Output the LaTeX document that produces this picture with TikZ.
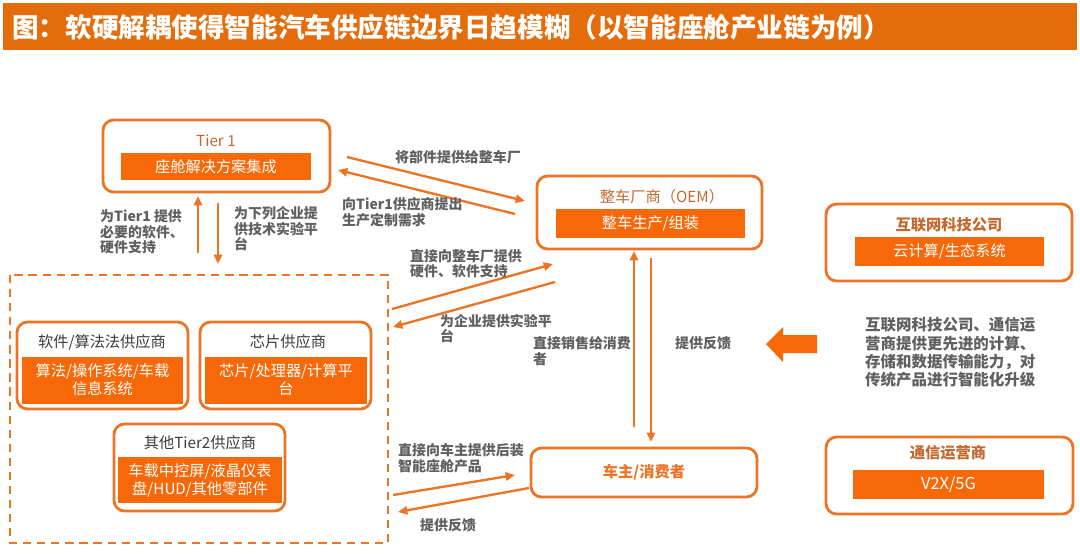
\documentclass[tikz,border=0pt]{standalone}
\usepackage{fontspec}
\setmainfont{Noto Sans CJK SC}
\usetikzlibrary{arrows.meta}
\definecolor{titleor}{RGB}{228,108,10}
\definecolor{boxor}{RGB}{246,104,8}
\definecolor{lineor}{RGB}{236,116,36}
\definecolor{hdrbrown}{RGB}{196,104,48}
\definecolor{hdrdark}{RGB}{60,60,60}
\definecolor{lblgray}{RGB}{96,96,96}
\newlength\pxu
\setlength\pxu{0.03cm}
\tikzset{
  outerbox/.style={draw=lineor, line width=2.4pt, rounded corners=9pt, fill=white, inner sep=0pt},
  innerbox/.style={fill=boxor, text=white, inner sep=0pt, align=center, font=\fontsize{13}{15.4}\selectfont},
  hdr/.style={inner sep=0pt, font=\fontsize{13}{15}\selectfont},
  lbl/.style={text=lblgray, font=\fontsize{11.9}{13.3}\selectfont\bfseries, align=left, anchor=west, inner sep=0pt},
  arr/.style={draw=lineor, line width=2pt, -{Triangle[length=8pt,width=7pt]}},
}
\begin{document}
\begin{tikzpicture}[x=0.03cm, y=-0.03cm]
\useasboundingbox (0,0) rectangle (1080,554);
\fill[white] (0,0) rectangle (1080,554);
% title
\fill[titleor] (3,3) rectangle (1077,50);
\node[anchor=west, text=white, inner sep=0pt, font=\fontsize{22.7}{24}\selectfont\bfseries] (title) at (12,27) {图：软硬解耦使得智能汽车供应链边界日趋模糊（以智能座舱产业链为例）};

% Tier 1
\node[outerbox, minimum width=227\pxu, minimum height=72\pxu] (tier1) at (216.5,156) {};
\node[hdr, text=hdrbrown] (tier1h) at (216,141) {Tier 1};
\node[innerbox, minimum width=190\pxu, minimum height=27\pxu] (tier1i) at (216,166.5) {座舱解决方案集成};

% OEM
\node[outerbox, minimum width=225\pxu, minimum height=73\pxu] (oem) at (649.5,212.5) {};
\node[hdr, text=hdrbrown] (oemh) at (662,197) {整车厂商（OEM）};
\node[innerbox, minimum width=189\pxu, minimum height=29\pxu] (oemi) at (650.5,223.5) {整车生产/组装};

% Internet
\node[outerbox, minimum width=246\pxu, minimum height=77\pxu] (inet) at (949,242.5) {};
\node[hdr, text=hdrbrown, font=\fontsize{13}{15}\selectfont\bfseries] (ineth) at (949,225) {互联网科技公司};
\node[innerbox, minimum width=189\pxu, minimum height=29\pxu] (ineti) at (949.5,251.5) {云计算/生态系统};

% Telecom
\node[outerbox, minimum width=247\pxu, minimum height=77\pxu] (tele) at (949.5,475.5) {};
\node[hdr, text=hdrbrown, font=\fontsize{13}{15}\selectfont\bfseries] (teleh) at (948,453) {通信运营商};
\node[innerbox, minimum width=191\pxu, minimum height=29\pxu, font=\fontsize{14}{16}\selectfont] (telei) at (948.5,484.5) {V2X/5G};

% Consumer
\node[outerbox, minimum width=226\pxu, minimum height=49\pxu, text=lineor, font=\fontsize{13}{15}\selectfont\bfseries] (cons) at (644,472.5) {车主/消费者};

% dashed group
\draw[draw=lineor, line width=2pt, dash pattern=on 7pt off 5pt] (10,275) rectangle (388,543);

% Software
\node[outerbox, minimum width=171\pxu, minimum height=87\pxu] (soft) at (102.5,365.5) {};
\node[hdr, text=hdrdark] (softh) at (102,342) {软件/算法法供应商};
\node[innerbox, minimum width=161\pxu, minimum height=47\pxu] (softi) at (102.5,380) {算法/操作系统/车载\\信息系统};

% Chip
\node[outerbox, minimum width=171\pxu, minimum height=87\pxu] (chip) at (285.5,365.5) {};
\node[hdr, text=hdrdark] (chiph) at (288,342) {芯片供应商};
\node[innerbox, minimum width=162\pxu, minimum height=47\pxu] (chipi) at (286,380) {芯片/处理器/计算平\\台};

% Other Tier2
\node[outerbox, minimum width=171\pxu, minimum height=87\pxu] (other) at (199.5,467.5) {};
\node[hdr, text=hdrdark] (otherh) at (200,443) {其他Tier2供应商};
\node[innerbox, minimum width=164\pxu, minimum height=46\pxu] (otheri) at (200,480) {车载中控屏/液晶仪表\\盘/HUD/其他零部件};

% connector end points
\coordinate (t1up0) at (198,253);  \coordinate (t1up1) at (198,196);
\coordinate (t1dn0) at (218,203);  \coordinate (t1dn1) at (218,264);
\coordinate (a1s) at (347,157);   \coordinate (a1e) at (525,201);
\coordinate (a2s) at (515,214);   \coordinate (a2e) at (338,170);
\coordinate (a3s) at (392,309);   \coordinate (a3e) at (553,264);
\coordinate (a4s) at (555,282);   \coordinate (a4e) at (393,327);
\coordinate (v1s) at (634,427);   \coordinate (v1e) at (634,251);
\coordinate (v2s) at (651,258);   \coordinate (v2e) at (651,442);
\coordinate (a5s) at (393,495);   \coordinate (a5e) at (515,475);
\coordinate (a6s) at (529,488);   \coordinate (a6e) at (398,512);

\draw[arr] (t1up0) -- (t1up1);
\draw[arr] (t1dn0) -- (t1dn1);
\draw[arr] (a1s) -- (a1e);
\draw[arr] (a2s) -- (a2e);
\draw[arr] (a3s) -- (a3e);
\draw[arr] (a4s) -- (a4e);
\draw[arr] (v1s) -- (v1e);
\draw[arr] (v2s) -- (v2e);
\draw[arr] (a5s) -- (a5e);
\draw[arr] (a6s) -- (a6e);

% labels
\node[lbl] (l1) at (100,232) {为Tier1 提供\\必要的软件、\\硬件支持};
\node[lbl] (l2) at (234,229) {为下列企业提\\供技术实验平\\台};
\node[lbl] (l3) at (395,157) {将部件提供给整车厂};
\node[lbl] (l4) at (342,212) {向Tier1供应商提出\\生产定制需求};
\node[lbl] (l5) at (410,263.5) {直接向整车厂提供\\硬件、软件支持};
\node[lbl] (l6) at (440,328.5) {为企业提供实验平\\台};
\node[lbl] (l7) at (533,351) {直接销售给消费\\者};
\node[lbl] (l8) at (675,343) {提供反馈};
\node[lbl] (l9) at (398,458.5) {直接向车主提供后装\\智能座舱产品};
\node[lbl] (l10) at (420,525) {提供反馈};

% big arrow and description
\fill[boxor] (766,344) -- (783,327) -- (783,335) -- (817,335) -- (817,353) -- (783,353) -- (783,362) -- cycle;
\node[lbl, font=\fontsize{13.2}{15.7}\selectfont\bfseries] (desc) at (865,352.5) {互联网科技公司、通信运\\营商提供更先进的计算、\\存储和数据传输能力，对\\传统产品进行智能化升级};
\end{tikzpicture}
\end{document}
